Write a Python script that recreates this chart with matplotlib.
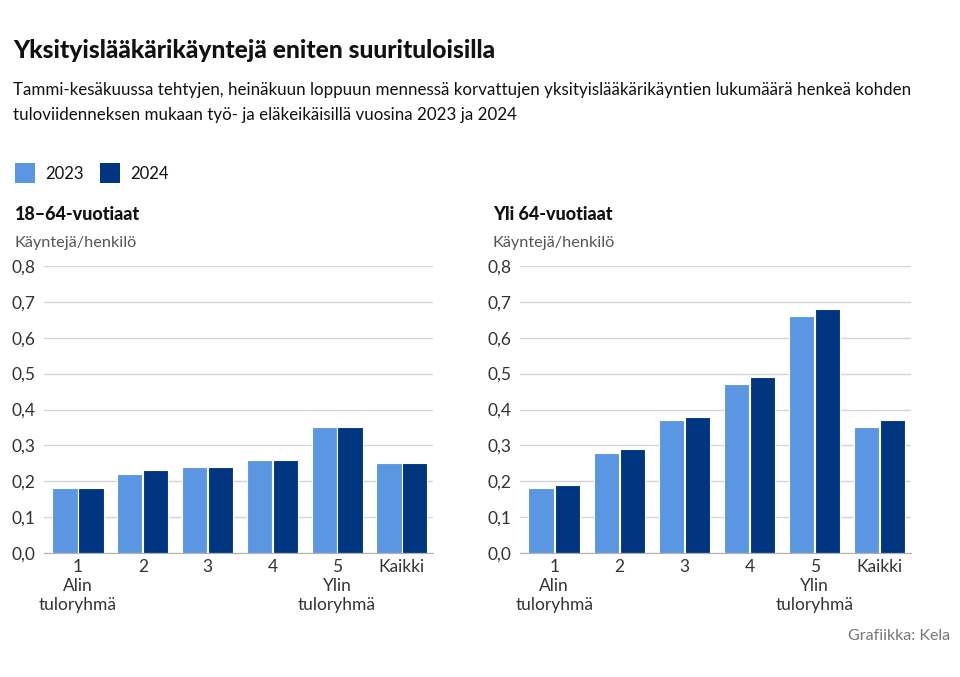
import matplotlib.pyplot as plt
import numpy as np
from matplotlib.patches import Rectangle

plt.rcParams['font.family'] = ['Lato', 'DejaVu Sans']

# ----------------------------
# Data
# ----------------------------
categories = ["1\nAlin\ntuloryhmä", "2", "3", "4", "5\nYlin\ntuloryhmä", "Kaikki"]
years = ["2023", "2024"]

working_2023 = [0.18, 0.22, 0.24, 0.26, 0.35, 0.25]
working_2024 = [0.18, 0.23, 0.24, 0.26, 0.35, 0.25]

retired_2023 = [0.18, 0.28, 0.37, 0.47, 0.66, 0.35]
retired_2024 = [0.19, 0.29, 0.38, 0.49, 0.68, 0.37]

yticks = [0.0, 0.1, 0.2, 0.3, 0.4, 0.5, 0.6, 0.7, 0.8]
ytick_labels = ["0,0", "0,1", "0,2", "0,3", "0,4", "0,5", "0,6", "0,7", "0,8"]

c_2023 = "#5b96e3"
c_2024 = "#003580"
text_col = "#333333"

W, H = 960, 677
fig = plt.figure(figsize=(9.6, 6.77), dpi=100)


def fx(px):
    return px / W


def fy(py):
    return 1 - py / H


# ----------------------------
# Header texts
# ----------------------------
fig.text(fx(13), fy(50), "Yksityislääkärikäyntejä eniten suurituloisilla",
         fontsize=17.7, fontweight="black", color="#111111", va="center")
fig.text(fx(13), fy(90), "Tammi-kesäkuussa tehtyjen, heinäkuun loppuun mennessä korvattujen "
         "yksityislääkärikäyntien lukumäärä henkeä kohden",
         fontsize=12.15, color="#111111", va="center")
fig.text(fx(13), fy(115), "tuloviidenneksen mukaan työ- ja eläkeikäisillä vuosina 2023 ja 2024",
         fontsize=12.15, color="#111111", va="center")

# legend
for x0, col, lab in [(15, c_2023, years[0]), (100, c_2024, years[1])]:
    fig.add_artist(Rectangle((fx(x0), fy(183)), fx(20), 20 / H,
                             facecolor=col, edgecolor="none", transform=fig.transFigure))
    fig.text(fx(x0 + 30), fy(174), lab, fontsize=12, color="#111111", va="center")

fig.text(fx(950), fy(636), "Grafiikka: Kela", fontsize=11.5, color="#777777",
         ha="right", va="center")

# ----------------------------
# Panels
# ----------------------------
panels = [
    (44, 433, "18–64-vuotiaat", working_2023, working_2024, 15),
    (520, 911, "Yli 64-vuotiaat", retired_2023, retired_2024, 493),
]

x = np.arange(len(categories))
for left, right, title, v23, v24, tx in panels:
    ax = fig.add_axes([fx(left), fy(553), fx(right - left), (553 - 266) / H])
    ax.bar(x - 0.2, v23, width=0.39, color=c_2023, edgecolor="white", linewidth=0.8, zorder=3)
    ax.bar(x + 0.2, v24, width=0.39, color=c_2024, edgecolor="white", linewidth=0.8, zorder=3)
    ax.set_xlim(-0.525, 5.48)
    ax.set_ylim(0, 0.8)
    ax.set_yticks(yticks)
    ax.set_yticklabels(ytick_labels)
    ax.set_xticks(x)
    ax.set_xticklabels(categories, linespacing=1.25)
    ax.grid(axis="y", color="#d4d4d4", linewidth=1, zorder=0)
    for s in ["top", "right", "left"]:
        ax.spines[s].set_visible(False)
    ax.spines["bottom"].set_color("#b0b0b0")
    ax.spines["bottom"].set_zorder(4)
    ax.tick_params(axis="both", length=0, labelsize=12.5, labelcolor=text_col)
    ax.tick_params(axis="y", pad=6)
    ax.tick_params(axis="x", pad=4)

    fig.text(fx(tx), fy(214), title, fontsize=13, fontweight="black", color="#111111", va="center")
    fig.text(fx(tx), fy(243), "Käyntejä/henkilö", fontsize=11.7, color="#555555", va="center")

plt.savefig("out.png", dpi=100)
plt.close()
